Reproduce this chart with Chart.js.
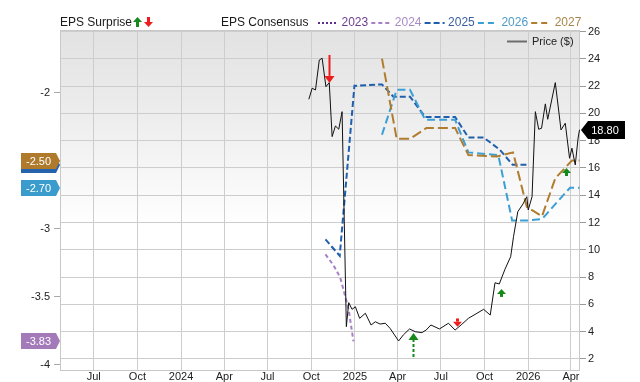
<!DOCTYPE html>
<html>
<head>
<meta charset="utf-8">
<script src="https://cdn.jsdelivr.net/npm/chart.js@4.4.0/dist/chart.umd.min.js"></script>
<style>
  html, body { margin: 0; padding: 0; background: #fff; }
  #wrap { width: 640px; height: 382px; }
</style>
</head>
<body>
<div id="wrap"><canvas id="chart" width="640" height="382"></canvas></div>
<script>
// Price ($) - right axis
const priceDates = [
  '2024-09-26', '2024-10-03', '2024-10-10', '2024-10-18', '2024-10-24', '2024-11-01', '2024-11-08',
  '2024-11-14', '2024-11-21', '2024-11-28', '2024-12-05', '2024-12-14', '2024-12-19', '2024-12-26',
  '2025-01-02', '2025-01-11', '2025-01-23', '2025-02-04', '2025-02-13', '2025-02-23', '2025-03-06',
  '2025-03-16', '2025-04-03', '2025-04-13', '2025-04-26', '2025-05-08', '2025-05-22', '2025-05-31',
  '2025-06-10', '2025-06-28', '2025-07-17', '2025-07-31', '2025-08-14', '2025-08-28', '2025-09-15',
  '2025-09-29', '2025-10-13', '2025-10-23', '2025-11-01', '2025-11-13', '2025-11-25', '2025-12-01',
  '2025-12-10', '2025-12-21', '2025-12-29', '2026-01-01', '2026-01-09', '2026-01-16', '2026-01-23',
  '2026-01-29', '2026-02-06', '2026-02-11', '2026-02-27', '2026-03-11', '2026-03-20', '2026-03-29',
  '2026-04-03', '2026-04-10', '2026-04-16', '2026-04-19'
];
const priceValues = [
  21.04, 21.85, 21.72, 23.92, 24.05, 21.96, 22.26,
  18.30, 19.08, 18.84, 20.13, 4.36, 6.12, 5.63,
  5.82, 4.97, 5.34, 4.48, 4.72, 4.55, 4.61,
  4.24, 3.31, 3.75, 4.19, 3.99, 3.92, 4.11,
  4.48, 4.19, 4.61, 4.11, 4.53, 4.97, 5.34,
  5.63, 5.21, 7.58, 7.49, 8.57, 9.49, 10.96,
  12.79, 13.36, 13.89, 12.92, 13.89, 20.13, 18.84,
  18.91, 20.70, 19.57, 22.26, 18.79, 19.28, 16.71,
  17.45, 16.22, 18.20, 18.80
];

// EPS consensus by fiscal year - left axis
const consensusYears = ['2023', '2024', '2025', '2026', '2027'];
const c2023Dates = [];
const c2023Values = [];
const c2024Dates = ['2024-10-31', '2024-11-17', '2024-12-01', '2024-12-08', '2024-12-19', '2024-12-29'];
const c2024Values = [-3.19, -3.27, -3.36, -3.45, -3.60, -3.83];
const c2025Dates = ['2024-10-31', '2024-11-30', '2024-12-31', '2025-02-27', '2025-03-23', '2025-04-27',
  '2025-05-29', '2025-07-31', '2025-08-28', '2025-09-29', '2025-11-02', '2025-11-29', '2025-12-29'];
const c2025Values = [-3.08, -3.20, -1.95, -1.94, -2.03, -2.03, -2.18, -2.18, -2.33, -2.33, -2.42, -2.53, -2.53];
const c2026Dates = ['2025-02-27', '2025-03-30', '2025-04-27', '2025-05-29', '2025-07-31', '2025-08-28',
  '2025-10-30', '2025-11-28', '2026-01-01', '2026-01-30', '2026-02-27', '2026-03-30', '2026-04-19'];
const c2026Values = [-2.31, -1.98, -1.98, -2.20, -2.20, -2.44, -2.46, -2.94, -2.94, -2.93, -2.82, -2.70, -2.70];
const c2027Dates = ['2025-02-27', '2025-03-30', '2025-04-27', '2025-06-01', '2025-07-31', '2025-08-28',
  '2025-10-27', '2025-11-30', '2025-12-29', '2026-01-30', '2026-02-27', '2026-04-03', '2026-04-19'];
const c2027Values = [-1.75, -2.34, -2.34, -2.26, -2.26, -2.46, -2.47, -2.44, -2.84, -2.91, -2.63, -2.50, -2.50];

// EPS surprise arrows (placed on the price axis: from -> to)
const surpriseDates = ['2024-11-07', '2025-05-04', '2025-08-04', '2025-11-04', '2026-03-22'];
const surpriseFrom = [24.29, 2.13, 4.96, 6.54, 15.41];
const surpriseTo = [22.24, 3.89, 4.36, 7.12, 16.00];
const surpriseBeat = [false, true, false, true, true];

// Axis ticks
const xTickDates = ['2023-07-01', '2023-10-01', '2024-01-01', '2024-04-01', '2024-07-01', '2024-10-01',
  '2025-01-01', '2025-04-01', '2025-07-01', '2025-10-01', '2026-01-01', '2026-04-01'];
const xTickLabels = ['Jul', 'Oct', '2024', 'Apr', 'Jul', 'Oct', '2025', 'Apr', 'Jul', 'Oct', '2026', 'Apr'];
const epsTicks = [-4, -3.5, -3, -2.5, -2];
const priceTicks = [2, 4, 6, 8, 10, 12, 14, 16, 18, 20, 22, 24, 26];

const FONT = '"Liberation Sans", Arial, Helvetica, sans-serif';

function day(s) {
  const p = s.split('-').map(Number);
  return Date.UTC(p[0], p[1] - 1, p[2]) / 86400000;
}
function points(dates, values) {
  return dates.map((d, i) => ({ x: day(d), y: values[i] }));
}

const seriesStyle = {
  '2023': { line: '#5c2d8a', text: '#6c3f8e', dash: [2, 2], flag: '#6c3f8e' },
  '2024': { line: '#a77fc4', text: '#a98bc4', dash: [4, 3], flag: '#a47bb9' },
  '2025': { line: '#1f5fae', text: '#3c5fa0', dash: [6, 3], flag: '#2563ad' },
  '2026': { line: '#3a9fd5', text: '#4f9bc8', dash: [8, 4], flag: '#3a9ccc' },
  '2027': { line: '#b07c2e', text: '#a98545', dash: [10, 4], flag: '#b07a2c' }
};
const consensusData = {
  '2023': points(c2023Dates, c2023Values),
  '2024': points(c2024Dates, c2024Values),
  '2025': points(c2025Dates, c2025Values),
  '2026': points(c2026Dates, c2026Values),
  '2027': points(c2027Dates, c2027Values)
};

function drawArrow(ctx, x, yBase, yTip, color, dotted) {
  const big = Math.abs(yTip - yBase) > 12;
  const dir = yTip < yBase ? -1 : 1;
  const headLen = big ? 7 : 5;
  const headW = big ? 5 : 4.5;
  ctx.save();
  ctx.strokeStyle = color;
  ctx.fillStyle = color;
  ctx.lineWidth = big ? 2 : 3;
  ctx.setLineDash(dotted ? [3, 2] : []);
  ctx.beginPath();
  ctx.moveTo(x, yBase);
  ctx.lineTo(x, yTip - dir * headLen);
  ctx.stroke();
  ctx.setLineDash([]);
  ctx.beginPath();
  ctx.moveTo(x - headW, yTip - dir * headLen);
  ctx.lineTo(x + headW, yTip - dir * headLen);
  ctx.lineTo(x, yTip);
  ctx.closePath();
  ctx.fill();
  ctx.restore();
}

function drawFlagLeft(ctx, y, color, text) {
  const x0 = 21, x1 = 56, tip = 60, h = 16;
  ctx.fillStyle = color;
  ctx.beginPath();
  ctx.moveTo(x0, y - h / 2);
  ctx.lineTo(x1, y - h / 2);
  ctx.lineTo(tip, y);
  ctx.lineTo(x1, y + h / 2);
  ctx.lineTo(x0, y + h / 2);
  ctx.closePath();
  ctx.fill();
  ctx.fillStyle = '#fff';
  ctx.font = '11px ' + FONT;
  ctx.textAlign = 'center';
  ctx.textBaseline = 'middle';
  ctx.fillText(text, (x0 + x1) / 2, y + 0.5);
}

const decorPlugin = {
  id: 'decor',
  beforeDraw(chart) {
    const { ctx, chartArea: a } = chart;
    const g = ctx.createLinearGradient(0, a.top, 0, a.bottom);
    g.addColorStop(0, '#e2e2e2');
    g.addColorStop(0.25, '#ededed');
    g.addColorStop(0.58, '#ffffff');
    g.addColorStop(1, '#ffffff');
    ctx.save();
    ctx.fillStyle = g;
    ctx.fillRect(a.left, a.top, a.right - a.left, a.bottom - a.top);
    ctx.restore();
  },
  beforeDatasetsDraw(chart) {
    const { ctx, chartArea: a } = chart;
    ctx.save();
    ctx.strokeStyle = '#c8c8c8';
    ctx.lineWidth = 1;
    ctx.strokeRect(a.left + 0.5, a.top + 0.5, a.right - a.left - 1, a.bottom - a.top);
    ctx.restore();
  },
  afterDatasetsDraw(chart) {
    const { ctx } = chart;
    const xs = chart.scales.x, ps = chart.scales.price;
    surpriseDates.forEach((d, i) => {
      const x = Math.round(xs.getPixelForValue(day(d))) + 0.5;
      drawArrow(ctx, x, ps.getPixelForValue(surpriseFrom[i]), ps.getPixelForValue(surpriseTo[i]),
        surpriseBeat[i] ? '#15891a' : '#ee1c1c', surpriseBeat[i] && Math.abs(surpriseTo[i] - surpriseFrom[i]) > 1);
    });
    // Price ($) legend inside the plot
    ctx.save();
    ctx.strokeStyle = '#6e6e6e';
    ctx.lineWidth = 2;
    ctx.beginPath();
    ctx.moveTo(507, 41.5);
    ctx.lineTo(527, 41.5);
    ctx.stroke();
    ctx.fillStyle = '#222';
    ctx.font = '11px ' + FONT;
    ctx.textBaseline = 'middle';
    ctx.textAlign = 'left';
    ctx.fillText('Price ($)', 532, 42);
    ctx.restore();
  },
  afterDraw(chart) {
    const { ctx } = chart;
    const es = chart.scales.eps, ps = chart.scales.price;
    ctx.save();
    // top legend
    ctx.font = '12px ' + FONT;
    ctx.textBaseline = 'middle';
    ctx.textAlign = 'left';
    ctx.fillStyle = '#1a1a1a';
    ctx.fillText('EPS Surprise', 60, 23);
    drawArrow(ctx, 137.5, 27, 17, '#15891a', false);
    drawArrow(ctx, 148.5, 17, 27, '#ee1c1c', false);
    ctx.font = '12px ' + FONT;
    ctx.fillStyle = '#1a1a1a';
    ctx.textAlign = 'left';
    ctx.textBaseline = 'middle';
    ctx.fillText('EPS Consensus', 221, 23);
    consensusYears.forEach((yr, i) => {
      const st = seriesStyle[yr];
      const x0 = 318 + i * 53.3;
      ctx.strokeStyle = st.line;
      ctx.lineWidth = 2;
      ctx.setLineDash(st.dash.map(v => Math.min(v, 6)));
      ctx.beginPath();
      ctx.moveTo(x0, 23);
      ctx.lineTo(x0 + 20, 23);
      ctx.stroke();
      ctx.setLineDash([]);
      ctx.fillStyle = st.text;
      ctx.font = '12px ' + FONT;
      ctx.fillText(yr, x0 + 23.5, 23);
    });
    // last-value flags on the EPS axis
    ['2024', '2025', '2026', '2027'].forEach(yr => {
      const pts = consensusData[yr];
      if (!pts.length) return;
      const v = pts[pts.length - 1].y;
      drawFlagLeft(ctx, Math.round(es.getPixelForValue(v)), seriesStyle[yr].flag, v.toFixed(2));
    });
    // last price flag
    const last = priceValues[priceValues.length - 1];
    const py = Math.round(ps.getPixelForValue(last));
    ctx.fillStyle = '#000';
    ctx.beginPath();
    ctx.moveTo(581, py);
    ctx.lineTo(588, py - 9);
    ctx.lineTo(625, py - 9);
    ctx.lineTo(625, py + 9);
    ctx.lineTo(588, py + 9);
    ctx.closePath();
    ctx.fill();
    ctx.fillStyle = '#fff';
    ctx.font = '11px ' + FONT;
    ctx.textAlign = 'center';
    ctx.textBaseline = 'middle';
    ctx.fillText(last.toFixed(2), 605, py + 0.5);
    ctx.restore();
  }
};

const datasets = [
  {
    label: 'Price ($)',
    data: points(priceDates, priceValues),
    yAxisID: 'price',
    borderColor: '#111',
    borderWidth: 1,
    pointRadius: 0,
    tension: 0
  }
];
consensusYears.slice().reverse().forEach(yr => {
  datasets.push({
    label: yr,
    data: consensusData[yr],
    yAxisID: 'eps',
    borderColor: seriesStyle[yr].line,
    borderWidth: 2,
    borderDash: seriesStyle[yr].dash,
    pointRadius: 0,
    tension: 0
  });
});

new Chart(document.getElementById('chart'), {
  type: 'line',
  data: { datasets },
  plugins: [decorPlugin],
  options: {
    responsive: false,
    animation: false,
    events: [],
    layout: { padding: { top: 30, left: 0, right: 0, bottom: 0 } },
    plugins: { legend: { display: false }, tooltip: { enabled: false } },
    scales: {
      x: {
        type: 'linear',
        min: day('2023-04-21'),
        max: day('2026-04-20'),
        afterBuildTicks: s => { s.ticks = xTickDates.map(d => ({ value: day(d) })); },
        afterFit: s => { s.height = 12; },
        grid: { color: '#cdcdcd', drawTicks: false },
        border: { display: false },
        ticks: {
          autoSkip: false,
          maxRotation: 0,
          padding: 0,
          color: '#222',
          font: { family: FONT, size: 11 },
          callback: (v, i) => xTickLabels[i]
        }
      },
      eps: {
        type: 'linear',
        position: 'left',
        min: -4.04,
        max: -1.54,
        afterBuildTicks: s => { s.ticks = epsTicks.map(v => ({ value: v })); },
        afterFit: s => { s.width = 60; },
        grid: { drawOnChartArea: false, drawTicks: true, tickLength: 6, tickColor: '#aaa' },
        border: { display: false },
        ticks: {
          padding: 4,
          color: '#222',
          font: { family: FONT, size: 11 },
          callback: v => String(v)
        }
      },
      price: {
        type: 'linear',
        position: 'right',
        min: 1.18,
        max: 26.12,
        afterBuildTicks: s => { s.ticks = priceTicks.map(v => ({ value: v })); },
        afterFit: s => { s.width = 60; },
        grid: { color: '#cdcdcd', drawTicks: true, tickLength: 6, tickColor: '#999' },
        border: { display: false },
        ticks: {
          padding: 2,
          color: '#222',
          font: { family: FONT, size: 11 },
          callback: v => String(v)
        }
      }
    }
  }
});
</script>
</body>
</html>
